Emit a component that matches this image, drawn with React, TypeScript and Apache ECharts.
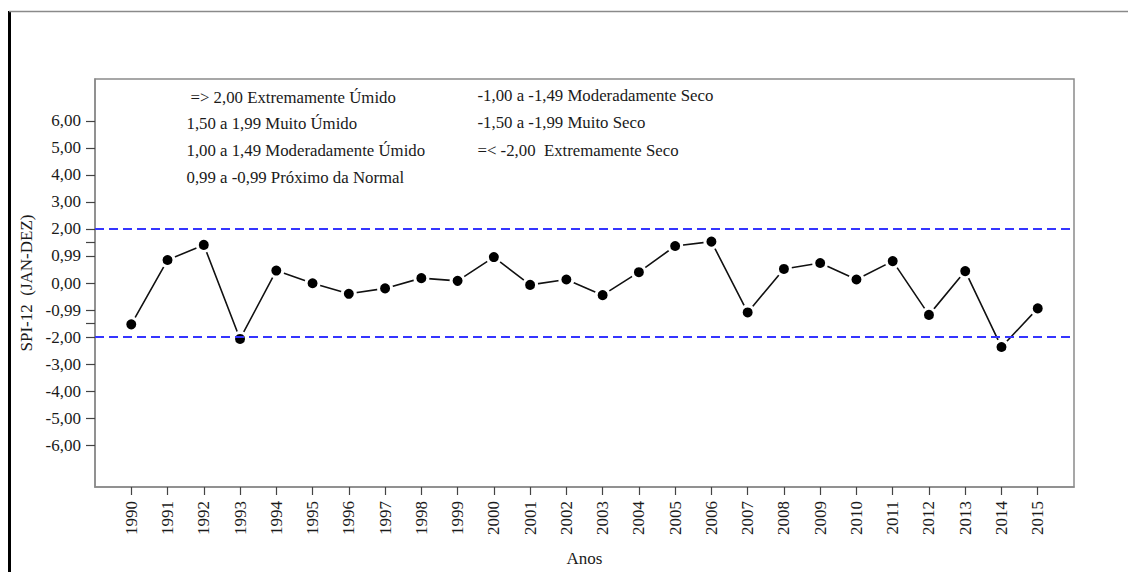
import React, { useEffect, useRef } from "react";
import * as echarts from "echarts";

const years: number[] = [
  1990, 1991, 1992, 1993, 1994, 1995, 1996, 1997, 1998, 1999, 2000, 2001, 2002,
  2003, 2004, 2005, 2006, 2007, 2008, 2009, 2010, 2011, 2012, 2013, 2014, 2015,
];
const spiValues: number[] = [
  -1.53, 0.85, 1.41, -2.07, 0.46, -0.01, -0.4, -0.2, 0.18, 0.08, 0.96, -0.07, 0.13,
  -0.45, 0.4, 1.37, 1.53, -1.09, 0.52, 0.74, 0.13, 0.81, -1.18, 0.44, -2.37, -0.94,
];
const yTickValues: number[] = [-6, -5, -4, -3, -2, -1, 0, 1, 2, 3, 4, 5, 6];
const yTickLabels: string[] = [
  "-6,00", "-5,00", "-4,00", "-3,00", "-2,00", "-0,99", "0,00", "0,99", "2,00", "3,00", "4,00", "5,00", "6,00",
];
const yExtraTicks: number[] = [-1.5, 1.5];
const thresholds: number[] = [2, -2];
const legendLeft: string[] = [
  "=> 2,00 Extremamente Úmido",
  "1,50 a 1,99 Muito Úmido",
  "1,00 a 1,49 Moderadamente Úmido",
  "0,99 a -0,99 Próximo da Normal",
];
const legendRight: string[] = [
  "-1,00 a -1,49 Moderadamente Seco",
  "-1,50 a -1,99 Muito Seco",
  "=< -2,00  Extremamente Seco",
];

const FONT = "Times New Roman, Liberation Serif, serif";

export default function App() {
  const ref = useRef<HTMLDivElement>(null);

  useEffect(() => {
    if (!ref.current) return;
    const chart = echarts.init(ref.current, undefined, { renderer: "svg" });

    const leftX = [190.5, 186.5, 186.5, 186.5];
    const leftY = [97, 123.5, 150.5, 177];
    const rightY = [95.5, 122, 150.5];

    const textEl = (text: string, x: number, y: number) => ({
      type: "text",
      x,
      y,
      silent: true,
      style: {
        text,
        fontSize: 16.8,
        fontFamily: FONT,
        fill: "#1a1a1a",
        textVerticalAlign: "middle",
        verticalAlign: "middle",
      },
    });

    const option: any = {
      animation: false,
      backgroundColor: "#ffffff",
      textStyle: { fontFamily: FONT },
      grid: {
        left: 95,
        right: 54,
        top: 79,
        bottom: 79,
        show: true,
        borderColor: "#8a8a8a",
        borderWidth: 1.5,
        backgroundColor: "transparent",
      },
      xAxis: {
        type: "value",
        min: 1989,
        max: 2016,
        name: "Anos",
        nameLocation: "middle",
        nameGap: 63,
        nameTextStyle: { fontFamily: FONT, fontSize: 17, color: "#1a1a1a" },
        axisLine: { show: true, onZero: false, lineStyle: { color: "#8a8a8a", width: 1.5 } },
        axisTick: {
          show: true,
          length: 8,
          customValues: years,
          lineStyle: { color: "#444", width: 1.2 },
        },
        axisLabel: {
          show: true,
          customValues: years,
          rotate: 90,
          margin: 14,
          fontFamily: FONT,
          fontSize: 17,
          color: "#1a1a1a",
          formatter: (v: number) => String(v),
        },
        splitLine: { show: false },
      },
      yAxis: {
        type: "value",
        min: -7.55,
        max: 7.55,
        name: "SPI-12  (JAN-DEZ)",
        nameLocation: "middle",
        nameRotate: 90,
        nameGap: 56,
        nameTextStyle: { fontFamily: FONT, fontSize: 17, color: "#1a1a1a" },
        axisLine: { show: true, onZero: false, lineStyle: { color: "#8a8a8a", width: 1.5 } },
        axisTick: {
          show: true,
          length: 9,
          customValues: [...yTickValues, ...yExtraTicks],
          lineStyle: { color: "#444", width: 1.2 },
        },
        axisLabel: {
          show: true,
          customValues: yTickValues,
          margin: 14,
          fontFamily: FONT,
          fontSize: 17,
          color: "#1a1a1a",
          formatter: (v: number) => {
            const i = yTickValues.findIndex((t) => Math.abs(t - v) < 1e-6);
            return i >= 0 ? yTickLabels[i] : "";
          },
        },
        splitLine: { show: false },
      },
      series: [
        {
          type: "line",
          data: [],
          silent: true,
          markLine: {
            silent: true,
            symbol: "none",
            label: { show: false },
            lineStyle: { color: "#3535ff", type: [9, 5], width: 2.2 },
            data: thresholds.map((t) => ({ yAxis: t })),
          },
          z: 1,
        },
        {
          type: "line",
          data: years.map((y, i) => [y, spiValues[i]]),
          symbol: "circle",
          symbolSize: 13,
          showSymbol: true,
          lineStyle: { color: "#111", width: 1.6 },
          itemStyle: { color: "#000", borderColor: "#ffffff", borderWidth: 3 },
          emphasis: { disabled: true },
          silent: true,
          z: 3,
        },
      ],
      graphic: [
        {
          type: "rect",
          silent: true,
          shape: { x: 8, y: 11, width: 3, height: 561 },
          style: { fill: "#000" },
        },
        {
          type: "line",
          silent: true,
          shape: { x1: 9, y1: 11.5, x2: 1128, y2: 11.5 },
          style: { stroke: "#8a8a8a", lineWidth: 1.5 },
        },
        ...legendLeft.map((t, i) => textEl(t, leftX[i], leftY[i])),
        ...legendRight.map((t, i) => textEl(t, 477.5, rightY[i])),
      ],
    };

    chart.setOption(option);
    return () => chart.dispose();
  }, []);

  return (
    <div
      ref={ref}
      style={{ position: "fixed", left: 0, top: 0, width: 1128, height: 572 }}
    />
  );
}
